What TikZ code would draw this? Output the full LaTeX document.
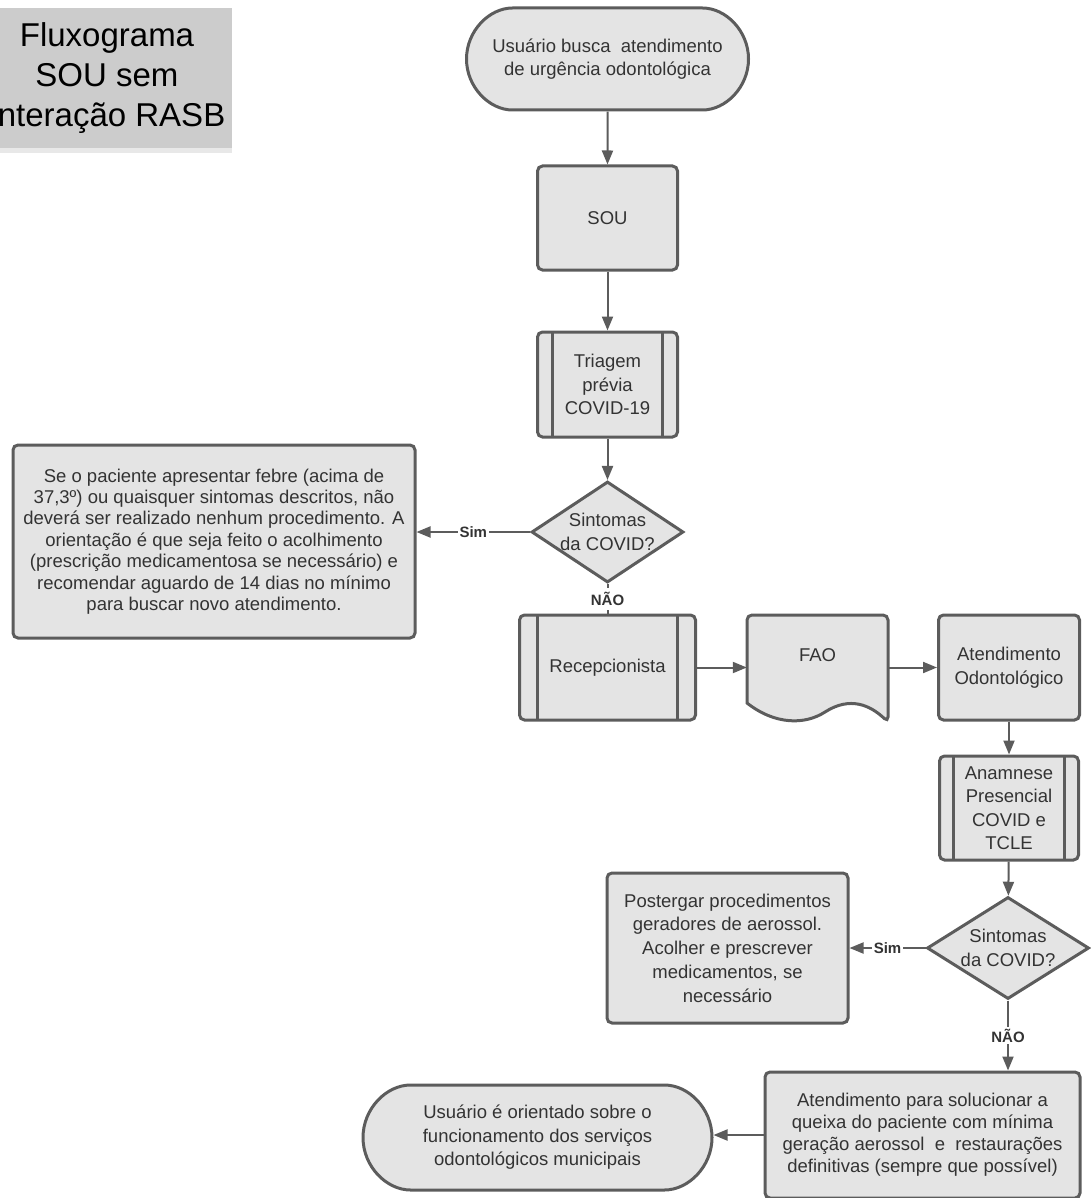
\documentclass[tikz,border=0pt]{standalone}
\usepackage{fontspec}
\setmainfont{Liberation Sans}
\usetikzlibrary{arrows.meta,shapes.misc,shapes.geometric,shadows}
\definecolor{boxfill}{HTML}{E4E4E4}
\definecolor{edge}{HTML}{5C5C5C}
\definecolor{ink}{HTML}{333333}
\definecolor{titlefill}{HTML}{CCCCCC}

\begin{document}
\begin{tikzpicture}[x=1pt,y=-1pt,
  box/.style={draw=edge,fill=boxfill,line width=3pt,rounded corners=5pt,text=ink,align=center,inner sep=0pt,font=\fontsize{18.5}{23.5}\selectfont},
  predef/.style={box,path picture={
    \draw[edge,line width=2.5pt] ([xshift=#1]path picture bounding box.north west) -- ([xshift=#1]path picture bounding box.south west);
    \draw[edge,line width=2.5pt] ([xshift=-#1]path picture bounding box.north east) -- ([xshift=-#1]path picture bounding box.south east);}},
  predef/.default=16pt,
  term/.style={box,rounded rectangle},
  decision/.style={box,sharp corners,diamond,aspect=1.5},
  conn/.style={draw=edge,line width=2pt},
  arr/.style={conn,-{Triangle[length=14pt,width=11pt]}},
  lbl/.style={fill=white,text=ink,font=\fontsize{15}{15}\selectfont\bfseries,inner sep=1.5pt}
]
\clip (0,0) rectangle (1091,1198);

\node[fill=titlefill,minimum width=250pt,minimum height=140pt,align=center,
  font=\fontsize{33}{40}\selectfont,
  drop shadow={shadow xshift=0pt,shadow yshift=-5pt,opacity=0.18}] (titulo) at (107,78)
  {Fluxograma\\SOU sem\\Interação RASB};

\node[term,minimum width=282pt,minimum height=102pt] (inicio) at (607.5,59)
  {Usuário busca\ \ atendimento\\de urgência odontológica};
\node[box,minimum width=140pt,minimum height=104pt] (sou) at (607.5,218) {SOU};
\node[predef=15pt,minimum width=140pt,minimum height=105pt] (triagem) at (607.5,384.5)
  {Triagem\\prévia\\COVID-19};
\node[decision,minimum width=152pt,minimum height=101pt] (sint1) at (607.5,532)
  {Sintomas\\da COVID?};
\node[box,minimum width=402pt,minimum height=193pt,font=\fontsize{18.5}{21.4}\selectfont] (febre) at (214,541.5)
  {Se o paciente apresentar febre (acima de\\37,3º) ou quaisquer sintomas descritos, não\\deverá ser realizado nenhum procedimento. A\\orientação é que seja feito o acolhimento\\(prescrição medicamentosa se necessário) e\\recomendar aguardo de 14 dias no mínimo\\para buscar novo atendimento.};
\node[predef=18pt,minimum width=176pt,minimum height=105pt] (recep) at (607.5,667.5) {Recepcionista};

\draw[draw=edge,fill=boxfill,line width=3pt] (747,703) [rounded corners=5pt] -- (747,615) -- (888,615) -- (888,722) [sharp corners]
  .. controls (870,705) and (850,696) .. (825,712) .. controls (805,725) and (775,725) .. (747,703) -- cycle;
\node[minimum width=141pt,minimum height=105pt,inner sep=0pt,text=ink,font=\fontsize{18.5}{23.5}\selectfont] (fao) at (817.5,667.5)
  {\raisebox{6pt}[0pt][0pt]{FAO}};

\node[box,minimum width=141pt,minimum height=105pt] (atend) at (1009,667.5) {Atendimento\\Odontológico};
\node[predef=14pt,minimum width=139pt,minimum height=104pt] (anam) at (1009,808)
  {Anamnese\\Presencial\\COVID e\\TCLE};
\node[decision,minimum width=162pt,minimum height=102pt] (sint2) at (1008,948) {Sintomas\\da COVID?};
\node[box,minimum width=241pt,minimum height=150pt,font=\fontsize{18.5}{23.75}\selectfont] (poster) at (727.5,948)
  {Postergar procedimentos\\geradores de aerossol.\\Acolher e prescrever\\medicamentos, se\\necessário};
\node[box,minimum width=315pt,minimum height=126pt,font=\fontsize{18.5}{22}\selectfont] (sol) at (922.5,1135)
  {Atendimento para solucionar a\\queixa do paciente com mínima\\geração aerossol\ \ e\ \ restaurações\\definitivas (sempre que possível)};
\node[term,minimum width=349pt,minimum height=105pt] (fim) at (537.5,1137.5)
  {Usuário é orientado sobre o\\funcionamento dos serviços\\odontológicos municipais};

\draw[arr] (inicio) -- (sou);
\draw[arr] (sou) -- (triagem);
\draw[arr] (triagem) -- (sint1);
\draw[arr] (sint1.west) -- node[lbl]{Sim} (sint1.west -| febre.east);
\draw[conn] (sint1) -- node[lbl,inner ysep=4pt]{NÃO} (recep);
\draw[arr] (recep) -- (fao);
\draw[arr] (fao) -- (atend);
\draw[arr] (atend) -- (anam);
\draw[arr] (anam) -- (sint2);
\draw[arr] (sint2.west) -- node[lbl]{Sim} (sint2.west -| poster.east);
\draw[arr] (sint2.south) -- node[lbl]{NÃO} (sint2.south |- sol.north);
\draw[arr] (sol.west) -- (sol.west -| fim.east);
\end{tikzpicture}
\end{document}
